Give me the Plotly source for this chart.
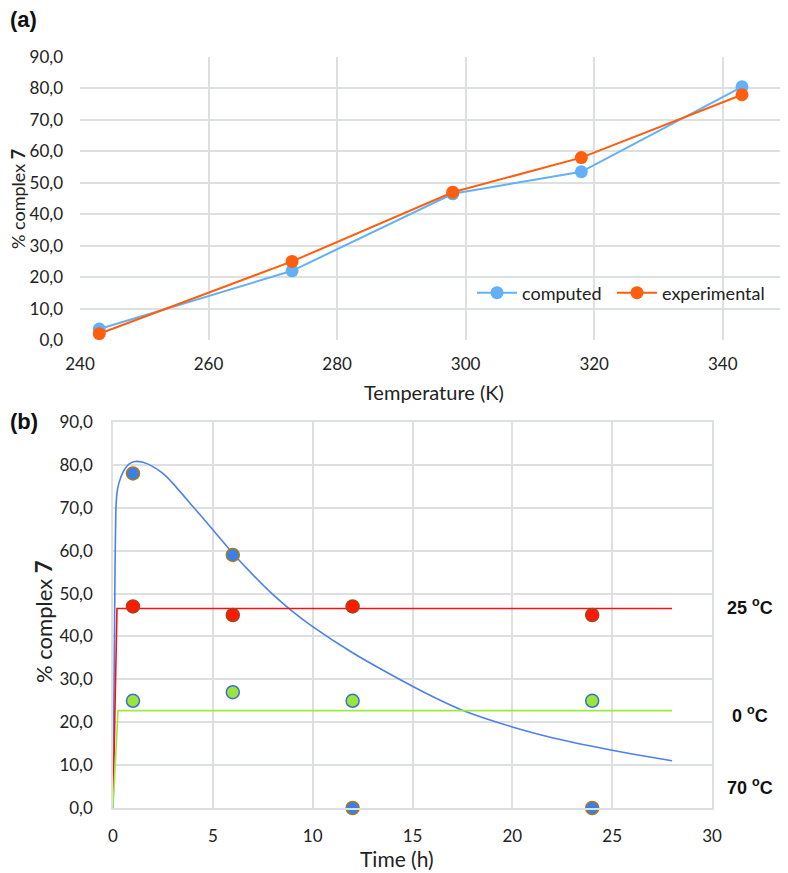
import plotly.graph_objects as go

# ---------- data panel (a) ----------
temps_K = [243, 273, 298, 318, 343]
computed = [3.5, 22.0, 46.5, 53.5, 80.5]
experimental = [2.0, 25.0, 47.0, 58.0, 78.0]

# ---------- data panel (b) ----------
t_model_70 = [0, 0.1, 0.15, 0.2, 0.3, 0.5, 0.8, 1.1, 1.5, 2, 2.5, 3, 4, 5, 6, 7, 8, 9,
              10, 12, 14, 16, 17.5, 20, 22, 24, 26, 28]
y_model_70 = [0, 55, 70, 73.5, 75.8, 78.3, 80.2, 80.8, 80.6, 79.6, 78.0, 75.7, 70.3,
              64.9, 59.4, 54.4, 49.8, 45.8, 42.3, 36.2, 30.9, 26.0, 22.8, 18.9, 16.4,
              14.4, 12.6, 11.0]
t_model_25 = [0, 0.2, 28]
y_model_25 = [0, 46.5, 46.5]
t_model_0 = [0, 0.1, 0.25, 28]
y_model_0 = [0, 9.5, 22.7, 22.7]

t_exp = [1, 6, 12, 24]
exp_70 = [78, 59, 0, 0]
exp_25 = [47, 45, 47, 45]
exp_0 = [25, 27, 25, 25]

labels_b = ["25 <sup>o</sup>C", "0 <sup>o</sup>C", "70 <sup>o</sup>C"]
label_y_b = [46.9, 21.7, 4.9]

# page body has an 8px margin: figure sized to fill the rest of the 788x873 window
OFF = 8
W, H = 788 - OFF, 873 - OFF
FONT = "Lato, Open Sans, sans-serif"
GRID = "#DCE0E0"

fig = go.Figure()

# panel (a)
fig.add_trace(go.Scatter(x=temps_K, y=computed, name="computed", mode="lines+markers",
                         line=dict(color="#62B0F8", width=2),
                         marker=dict(color="#62B0F8", size=13),
                         xaxis="x", yaxis="y", legend="legend"))
fig.add_trace(go.Scatter(x=temps_K, y=experimental, name="experimental", mode="lines+markers",
                         line=dict(color="#FF5E0E", width=2),
                         marker=dict(color="#FF5E0E", size=13),
                         xaxis="x", yaxis="y", legend="legend2"))

# panel (b) model lines
fig.add_trace(go.Scatter(x=t_model_70, y=y_model_70, mode="lines", showlegend=False,
                         line=dict(color="#4D80EC", width=1.6, shape="spline", smoothing=0.6),
                         xaxis="x2", yaxis="y2"))
fig.add_trace(go.Scatter(x=t_model_25, y=y_model_25, mode="lines", showlegend=False,
                         line=dict(color="#FF1010", width=1.6),
                         xaxis="x2", yaxis="y2"))
fig.add_trace(go.Scatter(x=t_model_0, y=y_model_0, mode="lines", showlegend=False,
                         line=dict(color="#9BEA3E", width=1.6),
                         xaxis="x2", yaxis="y2"))

# panel (b) experimental points
fig.add_trace(go.Scatter(x=t_exp, y=exp_25, mode="markers", showlegend=False,
                         marker=dict(color="#FF1A00", size=13, line=dict(color="#A4441C", width=1.5)),
                         xaxis="x2", yaxis="y2"))
fig.add_trace(go.Scatter(x=t_exp, y=exp_0, mode="markers", showlegend=False,
                         marker=dict(color="#9BE43A", size=13, line=dict(color="#3B6FD6", width=1.5)),
                         xaxis="x2", yaxis="y2"))
fig.add_trace(go.Scatter(x=t_exp, y=exp_70, mode="markers", showlegend=False,
                         marker=dict(color="#3A80E6", size=13, line=dict(color="#A87A1E", width=1.5)),
                         xaxis="x2", yaxis="y2", cliponaxis=False))

def px_x(p):
    return max(0.0, (p - OFF) / W)

def px_y(p):
    return 1 - (p - OFF) / H

tickfont = dict(family=FONT, size=17, color="#222222")
legfont = dict(family=FONT, size=18, color="#222222")

fig.update_layout(
    width=W, height=H,
    margin=dict(l=0, r=0, t=0, b=0, autoexpand=False),
    paper_bgcolor="white", plot_bgcolor="white",
    separators=",.",
    font=dict(family=FONT, color="#222222"),
    xaxis=dict(domain=[px_x(80), px_x(787)], range=[240, 350], dtick=20,
               showgrid=True, gridcolor=GRID, gridwidth=1.5, zeroline=False, automargin=False,
               showline=False, tickfont=tickfont, ticklabelstandoff=12, anchor="y"),
    yaxis=dict(domain=[px_y(340), px_y(57)], range=[0, 90], dtick=10, tickformat=".1f",
               showgrid=True, gridcolor=GRID, gridwidth=1.5, zeroline=False, automargin=False,
               showline=False, tickfont=tickfont, ticklabelstandoff=16, anchor="x"),
    xaxis2=dict(domain=[px_x(113), px_x(712)], range=[0, 30], dtick=5,
                showgrid=True, gridcolor=GRID, gridwidth=1.5, zeroline=False, automargin=False,
                showline=True, linecolor=GRID, linewidth=1.5, mirror=True,
                tickfont=tickfont, ticklabelstandoff=12, anchor="y2"),
    yaxis2=dict(domain=[px_y(808), px_y(422)], range=[0, 90], dtick=10, tickformat=".1f",
                showgrid=True, gridcolor=GRID, gridwidth=1.5, zeroline=False, automargin=False,
                showline=True, linecolor=GRID, linewidth=1.5, mirror=True,
                tickfont=tickfont, ticklabelstandoff=15, anchor="x2"),
    legend=dict(orientation="h", x=px_x(472), y=px_y(293), xanchor="left", yanchor="middle",
                font=legfont, bgcolor="rgba(0,0,0,0)", itemwidth=40),
    legend2=dict(orientation="h", x=px_x(612), y=px_y(293), xanchor="left", yanchor="middle",
                 font=legfont, bgcolor="rgba(0,0,0,0)", itemwidth=40),
)

ann = []
ann.append(dict(text="<b>(a)</b>", x=0, y=px_y(20), xref="paper", yref="paper",
                xanchor="left", yanchor="middle", showarrow=False,
                font=dict(family="Liberation Sans, Arial", size=22, color="#111111")))
ann.append(dict(text="<b>(b)</b>", x=0, y=px_y(421), xref="paper", yref="paper",
                xanchor="left", yanchor="middle", showarrow=False,
                font=dict(family="Liberation Sans, Arial", size=22, color="#111111")))
ann.append(dict(text="Temperature (K)", x=px_x(434), y=px_y(392), xref="paper", yref="paper",
                xanchor="center", yanchor="middle", showarrow=False,
                font=dict(family=FONT, size=20, color="#222222")))
ann.append(dict(text="% complex <b>7</b>", x=px_x(18), y=px_y(199), xref="paper", yref="paper",
                xanchor="center", yanchor="middle", showarrow=False, textangle=-90,
                font=dict(family=FONT, size=18, color="#222222")))
ann.append(dict(text="Time (h)", x=px_x(397), y=px_y(858), xref="paper", yref="paper",
                xanchor="center", yanchor="middle", showarrow=False,
                font=dict(family=FONT, size=21, color="#222222")))
ann.append(dict(text="% complex <b>7</b>", x=px_x(43), y=px_y(622), xref="paper", yref="paper",
                xanchor="center", yanchor="middle", showarrow=False, textangle=-90,
                font=dict(family=FONT, size=22, color="#222222")))
for lab, ly in zip(labels_b, label_y_b):
    ann.append(dict(text="<b>" + lab + "</b>", x=px_x(750), y=ly, xref="paper", yref="y2",
                    xanchor="center", yanchor="middle", showarrow=False,
                    font=dict(family="Liberation Sans, Arial", size=18, color="#111111")))
fig.update_layout(annotations=ann)

fig.write_html("out.html")
